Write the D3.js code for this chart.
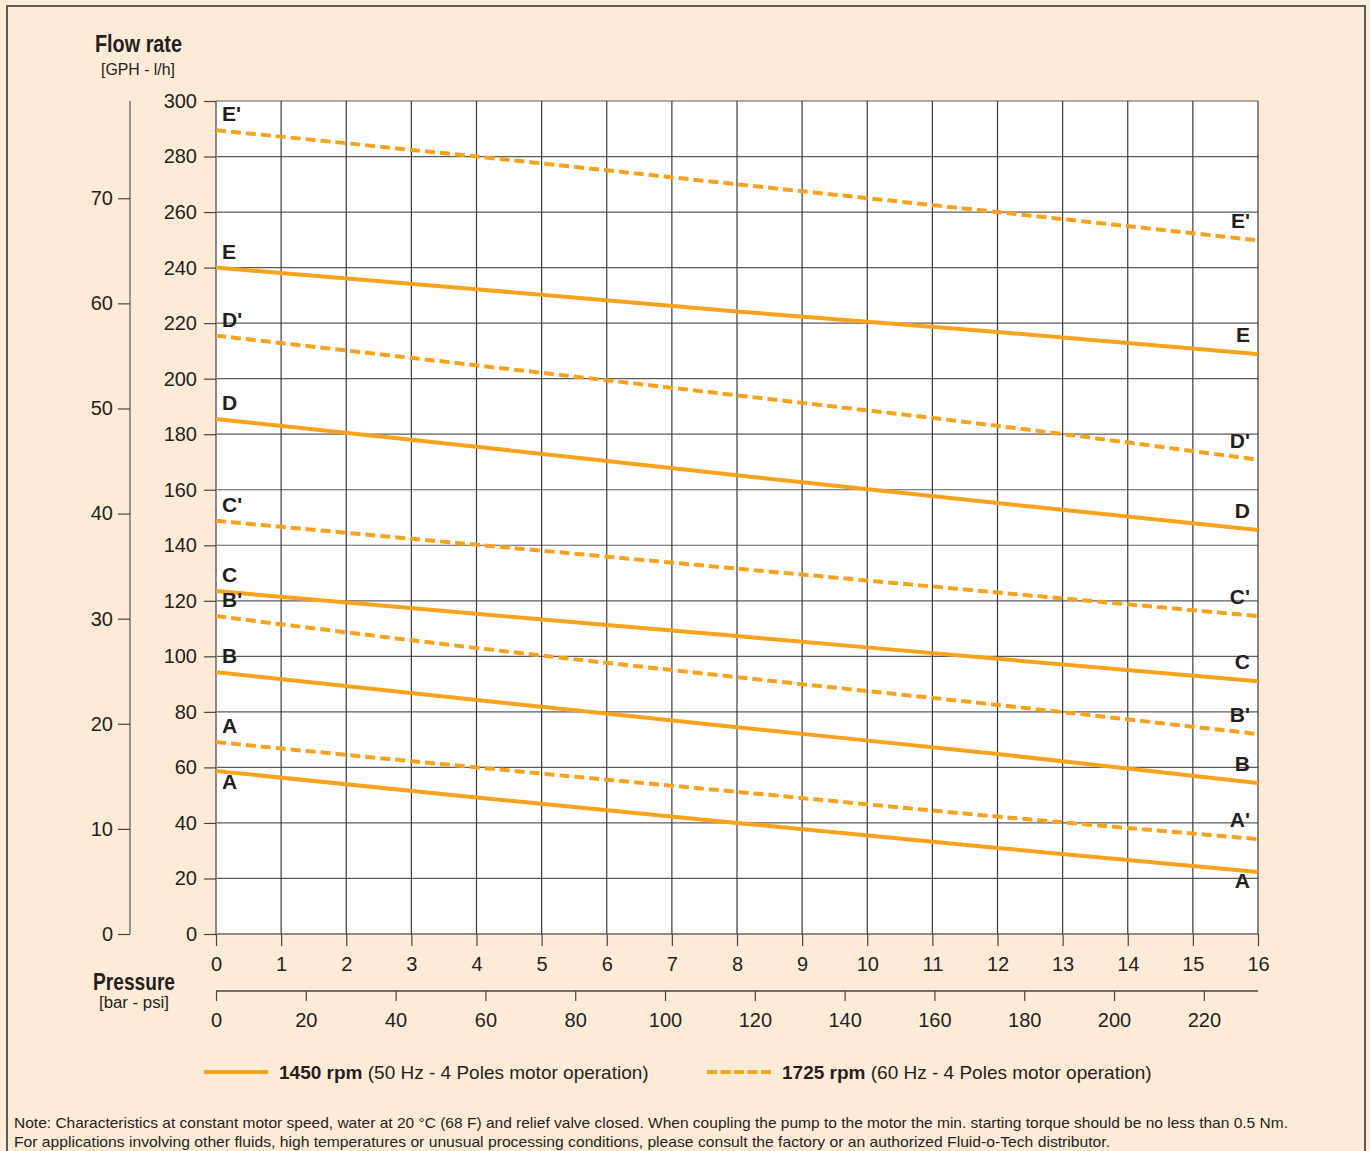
<!DOCTYPE html>
<html>
<head>
<meta charset="utf-8">
<script src="https://cdn.jsdelivr.net/npm/d3@7"></script>
<style>
  html, body { margin: 0; padding: 0; background: #fdebd8; }
  svg { display: block; }
  text { font-family: "Liberation Sans", Arial, Helvetica, sans-serif; }
</style>
</head>
<body>
<svg id="chart"></svg>
<script>
// ---- data ----
const pressureTicks = d3.range(0, 17);               // bar
const flowTicks = d3.range(0, 301, 20);              // l/h
const gphTicks = [0, 10, 20, 30, 40, 50, 60, 70];   // GPH
const psiTicks = d3.range(0, 221, 20);               // psi
const samplePressures = [0, 4, 8, 12, 16];           // bar

const curveNames = ["E'", "E", "D'", "D", "C'", "C", "B'", "B", "A'", "A"];
const curveDashed = [true, false, true, false, true, false, true, false, true, false];
const leftLabels = ["E'", "E", "D'", "D", "C'", "C", "B'", "B", "A", "A"];
const rightLabels = ["E'", "E", "D'", "D", "C'", "C", "B'", "B", "A'", "A"];
const curveValues = [
  [289.5, 280.0, 270.0, 260.0, 249.8],
  [240.0, 232.2, 224.2, 216.8, 208.8],
  [215.5, 204.8, 194.0, 183.0, 170.8],
  [185.5, 175.5, 165.2, 155.2, 145.5],
  [148.8, 140.2, 131.6, 123.0, 114.5],
  [123.5, 115.3, 107.3,  99.1,  91.0],
  [114.5, 103.0,  92.5,  82.5,  72.0],
  [ 94.3,  84.3,  74.5,  64.8,  54.4],
  [ 69.1,  60.0,  51.2,  42.3,  34.2],
  [ 58.7,  49.2,  40.0,  31.0,  22.3]
];

const legendItems = [
  { dashed: false, bold: "1450 rpm", rest: " (50 Hz - 4 Poles motor operation)" },
  { dashed: true,  bold: "1725 rpm", rest: " (60 Hz - 4 Poles motor operation)" }
];
const noteLines = [
  "Note: Characteristics at constant motor speed, water at 20 °C (68 F) and relief valve closed.  When coupling the pump to the motor the min. starting torque should be no less than 0.5 Nm.",
  "For applications involving other fluids, high temperatures or unusual processing conditions, please consult the factory or an authorized Fluid-o-Tech distributor."
];

const LPH_PER_GPH = 3.785411784;
const PSI_PER_BAR = 14.5038;

// ---- layout ----
const W = 1370, H = 1151;
const plotL = 216, plotR = 1258, plotT = 101, plotB = 934;
const orange = "#f7a21d", ink = "#231f20";

const svg = d3.select("#chart").attr("width", W).attr("height", H);

svg.append("rect").attr("x", 0).attr("y", 0).attr("width", W).attr("height", H).attr("fill", "#fdebd8");
svg.append("rect").attr("x", 7).attr("y", 6).attr("width", 1358).attr("height", 1160)
  .attr("fill", "none").attr("stroke", "#5a5a5a").attr("stroke-width", 2);

const x = d3.scaleLinear().domain([0, 16]).range([plotL, plotR]);
const y = d3.scaleLinear().domain([0, 300]).range([plotB, plotT]);
const yG = d3.scaleLinear().domain([0, 300 / LPH_PER_GPH]).range([plotB, plotT]);
const xP = d3.scaleLinear().domain([0, 16 * PSI_PER_BAR]).range([plotL, plotR]);

// plot area
svg.append("rect").attr("x", plotL).attr("y", plotT)
  .attr("width", plotR - plotL).attr("height", plotB - plotT).attr("fill", "#fff");

// grid
svg.append("g").selectAll("line").data(flowTicks).join("line")
  .attr("x1", plotL).attr("x2", plotR).attr("y1", d => y(d)).attr("y2", d => y(d))
  .attr("stroke", d => (d === 0 ? "#8a8a8a" : "#5c5c5c")).attr("stroke-width", d => (d === 0 ? 2 : 1.2));
svg.append("g").selectAll("line").data(pressureTicks).join("line")
  .attr("x1", d => x(d)).attr("x2", d => x(d)).attr("y1", plotT).attr("y2", plotB)
  .attr("stroke", d => (d === 0 ? "#8a8a8a" : "#3a3a3a")).attr("stroke-width", d => (d === 0 ? 2 : 1.2));

function styleAxis(g, size) {
  g.attr("font-family", null).attr("font-size", null);
  g.select(".domain").remove();
  g.selectAll(".tick line").attr("stroke", "#444").attr("stroke-width", 1.2);
  g.selectAll(".tick text").attr("fill", ink).style("font-size", size + "px");
}

// flow l/h axis
svg.append("g").attr("transform", `translate(${plotL},0)`)
  .call(d3.axisLeft(y).tickValues(flowTicks).tickSize(12).tickPadding(7).tickFormat(d3.format("d")))
  .call(g => styleAxis(g, 20));

// GPH axis
const gphX = 130;
svg.append("line").attr("x1", gphX).attr("x2", gphX).attr("y1", plotT).attr("y2", plotB)
  .attr("stroke", "#777").attr("stroke-width", 1.5);
svg.append("g").attr("transform", `translate(${gphX},0)`)
  .call(d3.axisLeft(yG).tickValues(gphTicks).tickSize(12).tickPadding(5).tickFormat(d3.format("d")))
  .call(g => styleAxis(g, 20));

// bar axis
svg.append("g").attr("transform", `translate(0,${plotB})`)
  .call(d3.axisBottom(x).tickValues(pressureTicks).tickSize(12).tickPadding(11).tickFormat(d3.format("d")))
  .call(g => styleAxis(g, 20));

// psi axis
const psiY = 991;
svg.append("line").attr("x1", plotL).attr("x2", plotR).attr("y1", psiY).attr("y2", psiY)
  .attr("stroke", "#444").attr("stroke-width", 1.5);
svg.append("g").attr("transform", `translate(0,${psiY})`)
  .call(d3.axisBottom(xP).tickValues(psiTicks).tickSize(10).tickPadding(12).tickFormat(d3.format("d")))
  .call(g => styleAxis(g, 20));

// axis titles (condensed look via textLength)
function title(txt, cx, by, size, bold, len) {
  svg.append("text").attr("x", cx - len / 2).attr("y", by)
    .attr("font-weight", bold ? "bold" : null).attr("font-size", size).attr("fill", ink)
    .attr("textLength", len).attr("lengthAdjust", "spacingAndGlyphs").text(txt);
}
title("Flow rate", 138.5, 52, 23, true, 87);
title("[GPH - l/h]", 138, 75, 16, false, 74);
title("Pressure", 134, 990, 23, true, 82);
title("[bar - psi]", 134, 1008, 16, false, 70);

// curves
const line = d3.line().x(d => x(d[0])).y(d => y(d[1])).curve(d3.curveMonotoneX);
const curves = curveNames.map((name, i) => ({
  name, dashed: curveDashed[i],
  pts: samplePressures.map((p, j) => [p, curveValues[i][j]]),
  leftLabel: leftLabels[i], rightLabel: rightLabels[i],
  below: i === curveNames.length - 1
}));

const cg = svg.append("g");
cg.selectAll("path").data(curves).join("path")
  .attr("d", d => line(d.pts)).attr("fill", "none").attr("stroke", orange)
  .attr("stroke-width", 4).attr("stroke-dasharray", d => (d.dashed ? "10,5" : null));

cg.selectAll("text.l").data(curves).join("text").attr("class", "l")
  .attr("x", plotL + 6).attr("y", d => y(d.pts[0][1]) + (d.below ? 18 : -9))
  .attr("font-weight", "bold").attr("font-size", 21).attr("fill", ink).text(d => d.leftLabel);
cg.selectAll("text.r").data(curves).join("text").attr("class", "r")
  .attr("x", plotR - 8).attr("text-anchor", "end")
  .attr("y", d => y(d.pts[d.pts.length - 1][1]) + (d.below ? 16 : -12))
  .attr("font-weight", "bold").attr("font-size", 21).attr("fill", ink).text(d => d.rightLabel);

// legend
const legendX = [204, 707];
const lg = svg.append("g").selectAll("g").data(legendItems).join("g")
  .attr("transform", (d, i) => `translate(${legendX[i]},1072)`);
lg.append("line").attr("x1", 0).attr("x2", 64).attr("y1", 0).attr("y2", 0)
  .attr("stroke", orange).attr("stroke-width", 4)
  .attr("stroke-dasharray", d => (d.dashed ? "10,3.5" : null));
const lt = lg.append("text").attr("x", 75).attr("y", 7)
  .attr("font-size", 19).attr("fill", ink);
lt.append("tspan").attr("font-weight", "bold").text(d => d.bold);
lt.append("tspan").text(d => d.rest);

// note
const noteLen = [1274, 1096];
svg.append("g").selectAll("text").data(noteLines).join("text")
  .attr("x", 14).attr("y", (d, i) => 1128 + i * 19)
  .attr("font-size", 15).attr("fill", ink)
  .attr("textLength", (d, i) => noteLen[i]).attr("lengthAdjust", "spacingAndGlyphs")
  .text(d => d);
</script>
</body>
</html>
